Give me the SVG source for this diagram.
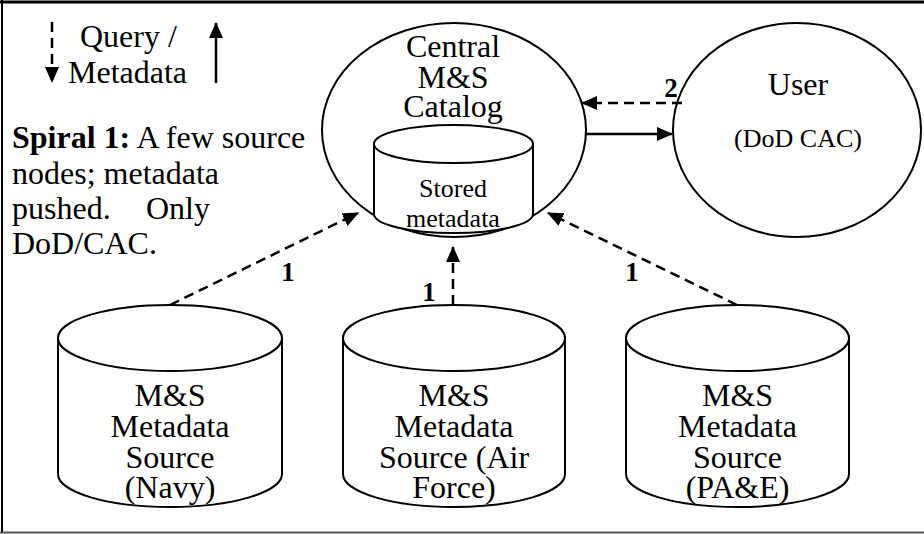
<svg xmlns="http://www.w3.org/2000/svg" width="924" height="534" viewBox="0 0 924 534">
<style>
.t{font-family:"Liberation Serif","Times New Roman",serif;font-size:32px;fill:#000;text-anchor:middle}
.ts{font-family:"Liberation Serif","Times New Roman",serif;font-size:26px;fill:#000;text-anchor:middle}
.tl{font-family:"Liberation Serif","Times New Roman",serif;font-size:32px;fill:#000}
.n{font-family:"Liberation Serif","Times New Roman",serif;font-size:27px;font-weight:bold;fill:#000;text-anchor:middle}
.s{fill:#fff;stroke:#000;stroke-width:2}
.d{stroke:#000;stroke-width:2.5;stroke-dasharray:10,6;fill:none}
.l{stroke:#000;stroke-width:2.5;fill:none}
</style>
<defs>
<marker id="ah" markerWidth="16" markerHeight="14" refX="15" refY="7" orient="auto" markerUnits="userSpaceOnUse"><path d="M0,0 L16,7 L0,14 Z" fill="#000"/></marker>
</defs>
<rect width="924" height="534" fill="#fff"/>
<g id="frame">
<line x1="0" y1="2" x2="924" y2="2" stroke="#000" stroke-width="3"/>
<line x1="2" y1="0" x2="2" y2="533" stroke="#000" stroke-width="2"/>
<line x1="0" y1="532.5" x2="924" y2="532.5" stroke="#555" stroke-width="2"/>
</g>
<g id="legend">
<line class="d" x1="52" y1="22" x2="52" y2="82" marker-end="url(#ah)"/>
<line class="l" x1="216" y1="83" x2="216" y2="23" marker-end="url(#ah)"/>
<text class="tl" x="80" y="47">Query /</text>
<text class="tl" x="68" y="83">Metadata</text>
</g>
<g id="note">
<text class="tl" x="12" y="148"><tspan font-weight="bold">Spiral 1:</tspan> A few source</text>
<text class="tl" x="12" y="184">nodes; metadata</text>
<text class="tl" x="12" y="219">pushed.<tspan x="146">Only</tspan></text>
<text class="tl" x="12" y="254">DoD/CAC.</text>
</g>
<g id="central">
<ellipse class="s" cx="454" cy="130" rx="132" ry="107"/>
<text class="t" x="453" y="57">Central</text>
<text class="t" x="453" y="88">M&amp;S</text>
<text class="t" x="453" y="117">Catalog</text>
</g>
<g id="stored">
<path class="s" d="M374,144 V214 A79.5,19 0 0 0 533,214 V144 Z"/>
<ellipse class="s" cx="453.5" cy="144" rx="79.5" ry="19"/>
<text class="ts" x="453" y="197">Stored</text>
<text class="ts" x="453" y="227">metadata</text>
</g>
<g id="user">
<ellipse class="s" cx="797" cy="130" rx="124" ry="107"/>
<text class="t" x="798" y="95">User</text>
<text class="ts" x="798" y="147">(DoD CAC)</text>
</g>
<g id="navy">
<path class="s" d="M58,338 V474 A112,33 0 0 0 282,474 V338 Z"/>
<ellipse class="s" cx="170" cy="338" rx="112" ry="33"/>
<text class="t" x="170" y="406">M&amp;S</text>
<text class="t" x="170" y="437">Metadata</text>
<text class="t" x="170" y="468">Source</text>
<text class="t" x="170" y="498">(Navy)</text>
</g>
<g id="airforce">
<path class="s" d="M343,338 V474 A111,33 0 0 0 565,474 V338 Z"/>
<ellipse class="s" cx="454" cy="338" rx="111" ry="33"/>
<text class="t" x="454" y="406">M&amp;S</text>
<text class="t" x="454" y="437">Metadata</text>
<text class="t" x="454" y="468">Source (Air</text>
<text class="t" x="454" y="498">Force)</text>
</g>
<g id="pae">
<path class="s" d="M626,338 V474 A111.5,33 0 0 0 849,474 V338 Z"/>
<ellipse class="s" cx="737.5" cy="338" rx="111.5" ry="33"/>
<text class="t" x="737.5" y="406">M&amp;S</text>
<text class="t" x="737.5" y="437">Metadata</text>
<text class="t" x="737.5" y="468">Source</text>
<text class="t" x="737.5" y="498">(PA&amp;E)</text>
</g>
<g id="connectors">
<line class="d" x1="170" y1="305" x2="358" y2="213" marker-end="url(#ah)"/>
<line class="d" x1="453" y1="305" x2="453" y2="247" marker-end="url(#ah)"/>
<line class="d" x1="737" y1="305" x2="548" y2="213" marker-end="url(#ah)"/>
<line class="d" x1="682" y1="103" x2="582" y2="103" marker-end="url(#ah)"/>
<line class="l" x1="586" y1="134" x2="672" y2="134" marker-end="url(#ah)"/>
<text class="n" x="288" y="281">1</text>
<text class="n" x="429" y="301">1</text>
<text class="n" x="632" y="281">1</text>
<text class="n" x="671" y="97">2</text>
</g>
</svg>
